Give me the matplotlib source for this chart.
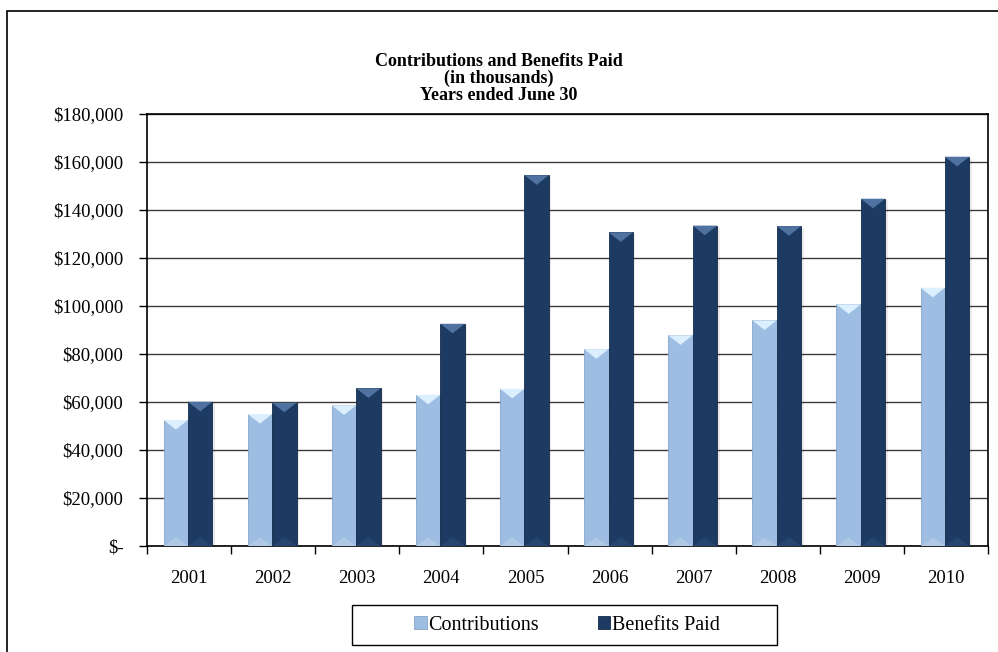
import matplotlib
matplotlib.use("Agg")
import matplotlib.pyplot as plt
import numpy as np
from matplotlib.patches import Polygon, Rectangle
from matplotlib.ticker import FuncFormatter, FixedLocator

years = ["2001", "2002", "2003", "2004", "2005", "2006", "2007", "2008", "2009", "2010"]
contributions = [52500, 55000, 58600, 63000, 65500, 82000, 87800, 94000, 100700, 107600]
benefits = [60100, 59700, 65700, 92600, 154500, 130700, 133500, 133300, 144700, 162200]
yticks = [0, 20000, 40000, 60000, 80000, 100000, 120000, 140000, 160000, 180000]

plt.rcParams['font.family'] = ['Liberation Serif', 'DejaVu Serif']

W, H = 998, 652
fig = plt.figure(figsize=(W / 100, H / 100), dpi=100)
fig.patch.set_facecolor('white')

# outer border
fig.add_artist(Rectangle((7 / W, -0.1), 1.2, 1 - 11 / H + 0.1, transform=fig.transFigure,
                         fill=False, edgecolor='#000000', linewidth=1.2))

ax = fig.add_axes([147 / W, 1 - 546 / H, (988 - 147) / W, (546 - 114) / H])

x = np.arange(len(years))
bw = 0.29
c_light, c_dark = '#9dbde2', '#1d3a63'
b1 = ax.bar(x - bw / 2 - 0.012, contributions, bw, color=c_light, edgecolor='#8aa6c8',
            linewidth=0.6, zorder=3, label='Contributions')
b2 = ax.bar(x + bw / 2 - 0.012, benefits, bw, color=c_dark, edgecolor='#142b4a',
            linewidth=0.6, zorder=3, label='Benefits Paid')

ax.set_xlim(-0.5, len(years) - 0.5)
ax.set_ylim(0, 180000)

# bevel effects derived from bar patches
d = 4000  # bevel depth in data units
for bars, top_c, bot_c in [(b1, '#dcefff', '#b7cde6'),
                           (b2, '#4f72a0', '#2a4a75')]:
    for p in bars:
        x0, w, h = p.get_x(), p.get_width(), p.get_height()
        ax.add_patch(Polygon([(x0, h), (x0 + w, h), (x0 + w * 0.5, h - d)], closed=True,
                             facecolor=top_c, edgecolor='none', zorder=4))
        ax.add_patch(Polygon([(x0, 0), (x0 + w, 0), (x0 + w * 0.5, d * 0.9)], closed=True,
                             facecolor=bot_c, edgecolor='none', zorder=4, alpha=0.7))
        ax.add_patch(Rectangle((x0 + w, 0), 0.03, h * 0.995, facecolor='#000000',
                               alpha=0.08, edgecolor='none', zorder=2))

ax.yaxis.set_major_locator(FixedLocator(yticks))
ax.yaxis.set_major_formatter(FuncFormatter(lambda v, pos: '$-' if v == 0 else '${:,.0f}'.format(v)))
ax.grid(axis='y', color='#3a3a3a', linewidth=1.0, zorder=0)
ax.set_axisbelow(True)

ax.set_xticks(x)
ax.set_xticklabels(years)
ax.tick_params(axis='x', which='major', length=0, pad=17, labelsize=13.5)
ax.set_xticks(np.arange(len(years) + 1) - 0.5, minor=True)
ax.tick_params(axis='x', which='minor', length=6, direction='out', width=1, color='#000000')
ax.tick_params(axis='y', length=6, direction='out', width=1, labelsize=13.5, pad=11)

for s in ax.spines.values():
    s.set_color('#000000')
    s.set_linewidth(1.2)

fig.text(0.5, 1 - 61 / H, 'Contributions and Benefits Paid', ha='center', va='center',
         fontsize=13, fontweight='bold')
fig.text(0.5, 1 - 78 / H, '(in thousands)', ha='center', va='center', fontsize=13, fontweight='bold')
fig.text(0.5, 1 - 95 / H, 'Years ended June 30', ha='center', va='center', fontsize=13, fontweight='bold')

# legend box
fig.add_artist(Rectangle((352 / W, 1 - 645 / H), (777 - 352) / W, 40 / H,
                         transform=fig.transFigure, fill=False, edgecolor='#000000', linewidth=1.0))
leg = fig.legend(handles=[b1, b2], loc='center', bbox_to_anchor=(567 / W, 1 - 625 / H),
                 ncol=2, frameon=False, fontsize=14.5, handlelength=0.6,
                 handleheight=0.6, handletextpad=0.1, columnspacing=2.9, borderpad=0.3)

fig.savefig('out.png', dpi=100, facecolor='white')
